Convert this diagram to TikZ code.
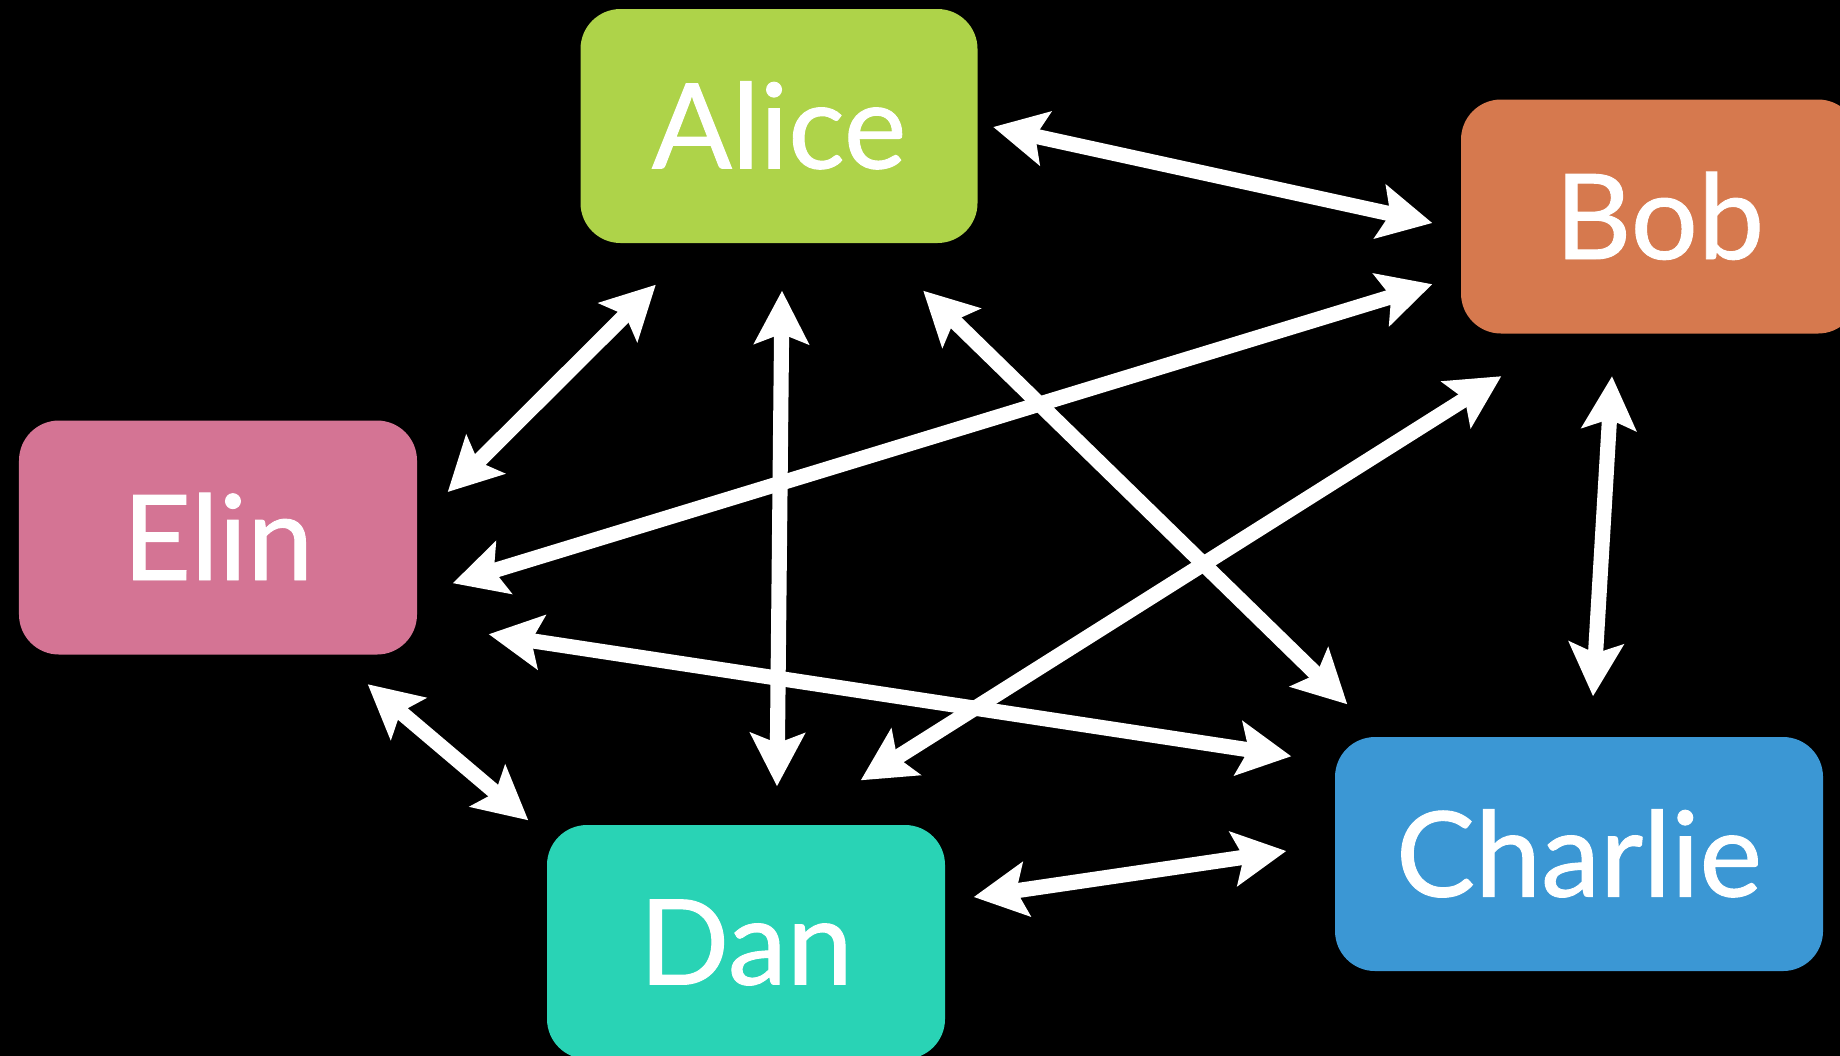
\documentclass[tikz,border=0pt]{standalone}
\usepackage{fontspec}
\setmainfont{Lato}
\newfontfamily\namefont[FakeBold=0.8]{Lato}
\usetikzlibrary{arrows.meta}

\definecolor{alicegreen}{HTML}{AED349}
\definecolor{boborange}{HTML}{D6794E}
\definecolor{elinpink}{HTML}{D47494}
\definecolor{danteal}{HTML}{29D3B5}
\definecolor{charlieblue}{HTML}{3B97D4}

\tikzset{
  person/.style={rounded corners=0.4cm, minimum width=3.97cm, minimum height=2.34cm,
    inner sep=0pt, text=white, text height=0.85cm, text depth=0pt,
    font=\namefont\fontsize{33.7}{40}\selectfont},
  tip/.tip={Stealth[length=0.53cm, width=0.54cm, inset=0.1cm]},
  link/.style={draw=white, line width=4.3pt, tip-tip}
}

\begin{document}
\begin{tikzpicture}

  % background
  \useasboundingbox (0,0) rectangle (18.4,10.55);
  \fill[black] (-0.1,-0.1) rectangle (18.5,10.65);

  % people
  \node[person, fill=alicegreen] (alice) at (7.79,9.29) {Alice};
  \node[person, fill=boborange] (bob) at (16.595,8.385) {Bob};
  \node[person, fill=elinpink, minimum width=3.98cm] (elin) at (2.18,5.175) {Elin};
  \node[person, fill=danteal, minimum width=3.98cm] (dan) at (7.46,1.13) {Dan};
  \node[person, fill=charlieblue, minimum width=4.88cm] (charlie) at (15.79,2.01) {Charlie};

  % links
  \draw[link] ([shift={(0.15,-0.01)}]alice.east) -- ([shift={(-0.28,-0.065)}]bob.west);
  \draw[link] ([shift={(0.35,0.72)}]elin.south east) -- ([shift={(-0.28,0.50)}]bob.south west);
  \draw[link] ([shift={(0.76,-0.41)}]alice.south west) -- ([shift={(0.30,0.455)}]elin.east);
  \draw[link] ([shift={(0.03,-0.47)}]alice.south) -- ([shift={(0.31,0.38)}]dan.north);
  \draw[link] ([shift={(-0.55,-0.47)}]alice.south east) -- ([shift={(0.13,0.32)}]charlie.north west);
  \draw[link] ([shift={(-0.85,0.44)}]dan.north east) -- ([shift={(0.41,-0.42)}]bob.south west);
  \draw[link] ([shift={(0.71,0.21)}]elin.south east) -- ([shift={(-0.43,-0.20)}]charlie.north west);
  \draw[link] ([shift={(-0.475,-0.42)}]bob.south) -- ([shift={(0.14,0.40)}]charlie.north);
  \draw[link] ([shift={(-0.50,-0.29)}]elin.south east) -- ([shift={(-0.18,0.04)}]dan.north west);
  \draw[link] ([shift={(0.28,0.45)}]dan.east) -- ([shift={(-0.48,0.03)}]charlie.west);

\end{tikzpicture}
\end{document}
